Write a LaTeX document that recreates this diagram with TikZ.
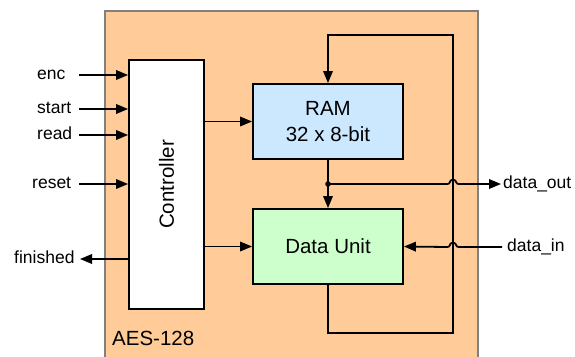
\documentclass[tikz,border=0pt]{standalone}
\usepackage{fontspec}
\setmainfont{Liberation Sans}
\usetikzlibrary{arrows.meta}
\definecolor{peach}{HTML}{FFCC99}
\definecolor{ramblue}{HTML}{CCE8FF}
\definecolor{dugreen}{HTML}{CCFFCC}
\definecolor{bordergray}{HTML}{808080}
\begin{document}
\begin{tikzpicture}[x=1pt,y=-1pt,
  blk/.style={draw=black,line width=1.8pt,inner sep=0pt,align=center,font=\fontsize{20.5}{25.3}\selectfont},
  lbl/.style={font=\fontsize{17.5}{21}\selectfont,inner sep=0pt},
  wire/.style={line width=1.8pt},
  arr/.style={wire,-{Triangle[length=12pt,width=9.5pt]}}]
\useasboundingbox (0,0) rectangle (575,356);
% outer block
\node[draw=bordergray,fill=peach,line width=1.8pt,minimum width=373pt,minimum height=360pt,inner sep=0pt,anchor=north west] (aes) at (104,10) {};
\node[lbl,font=\fontsize{20.5}{25}\selectfont,anchor=base west] (aeslbl) at (112,345) {AES-128};
% blocks
\node[blk,fill=white,minimum width=75pt,minimum height=249pt] (ctrl) at (166.5,184.5) {\rotatebox{90}{Controller}};
\node[blk,fill=ramblue,minimum width=150pt,minimum height=75pt] (ram) at (328,121.5) {RAM\\32 x 8-bit};
\node[blk,fill=dugreen,minimum width=150pt,minimum height=75pt] (du) at (328,246.5) {Data Unit};
% left labels
\node[lbl,anchor=base west] (enc) at (37,79.5) {enc};
\node[lbl,anchor=base west] (start) at (37,113.5) {start};
\node[lbl,anchor=base west] (read) at (37,139.5) {read};
\node[lbl,anchor=base west] (reset) at (32,188.5) {reset};
\node[lbl,anchor=base west] (fin) at (14,263.5) {finished};
\coordinate (encS) at (79,75);
\coordinate (startS) at (79,109);
\coordinate (readS) at (79,135);
\coordinate (resetS) at (79,184);
\coordinate (finE) at (80,259);
\draw[arr] (encS) -- (ctrl.west |- encS);
\draw[arr] (startS) -- (ctrl.west |- startS);
\draw[arr] (readS) -- (ctrl.west |- readS);
\draw[arr] (resetS) -- (ctrl.west |- resetS);
\draw[arr] (ctrl.west |- finE) -- (finE);
% controller to blocks
\draw[arr] (ctrl.east |- ram.west) -- (ram.west);
\draw[arr] (ctrl.east |- du.west) -- (du.west);
% RAM to data unit
\coordinate (j) at (328,184);
\draw[arr] (ram.south) -- (du.north);
\fill (j) circle[radius=2.8pt];
% right labels
\node[lbl,anchor=base west] (dout) at (503,188.5) {data\_out};
\node[lbl,anchor=base west] (din) at (507,251.5) {data\_in};
\coordinate (doutE) at (501,184);
\coordinate (dinS) at (502,247);
\draw[arr] (j) -- (447.5,184) .. controls (450.5,184) and (449.5,180) .. (452,180) -- (454,180) .. controls (456.5,180) and (455.5,184) .. (458.5,184) -- (doutE);
\draw[arr] (dinS) -- (458.5,247) .. controls (455.5,247) and (456.5,243) .. (454,243) -- (452,243) .. controls (449.5,243) and (450.5,247) .. (447.5,247) -- (du.east);
% feedback loop
\coordinate (lb) at (328,333);
\coordinate (rb) at (453,333);
\coordinate (rt) at (453,35);
\coordinate (lt) at (328,35);
\draw[arr] (du.south) -- (lb) -- (rb) -- (rt) -- (lt) -- (ram.north);
\end{tikzpicture}
\end{document}
